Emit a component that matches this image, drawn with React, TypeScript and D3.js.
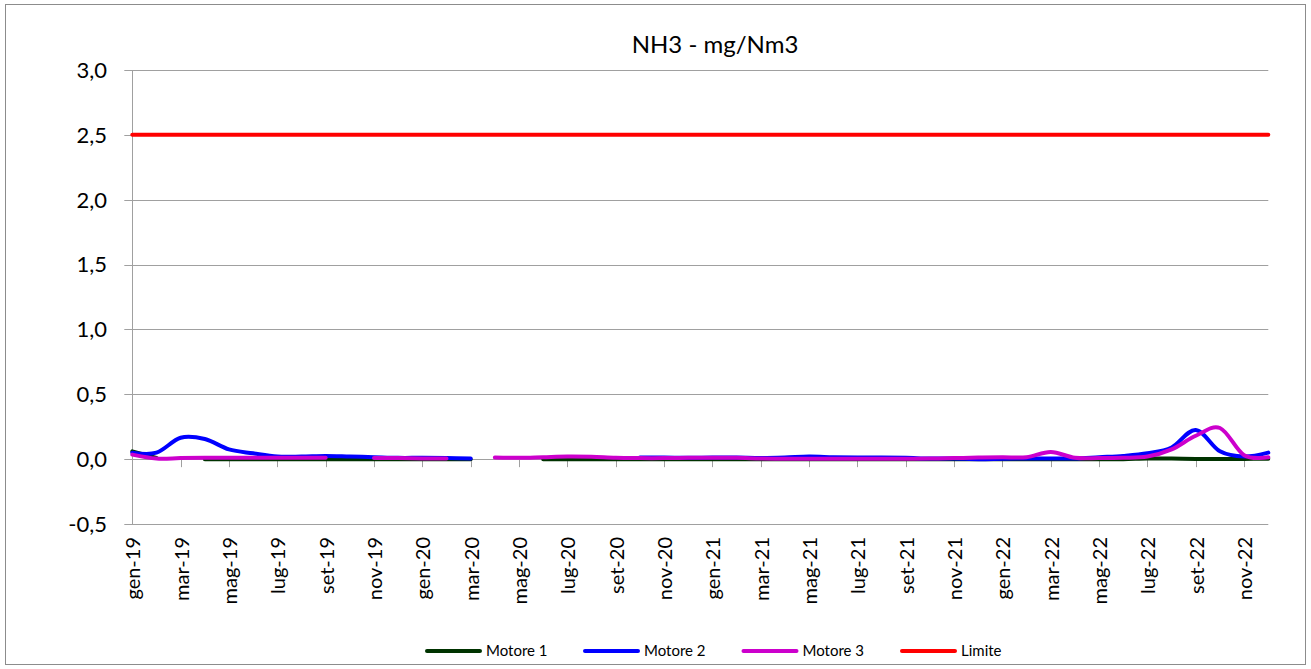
import React from "react";
import * as d3 from "d3";

const months: string[] = [
  "gen-19","feb-19","mar-19","apr-19","mag-19","giu-19","lug-19","ago-19","set-19","ott-19","nov-19","dic-19",
  "gen-20","feb-20","mar-20","apr-20","mag-20","giu-20","lug-20","ago-20","set-20","ott-20","nov-20","dic-20",
  "gen-21","feb-21","mar-21","apr-21","mag-21","giu-21","lug-21","ago-21","set-21","ott-21","nov-21","dic-21",
  "gen-22","feb-22","mar-22","apr-22","mag-22","giu-22","lug-22","ago-22","set-22","ott-22","nov-22","dic-22",
];

const motore1: (number | null)[] = [
  0.06, 0.01, null, 0.0, 0.0, 0.0, 0.0, 0.0, 0.0, 0.0, 0.0, 0.0,
  0.0, 0.0, 0.0, null, null, 0.0, 0.0, 0.0, 0.0, 0.0, 0.0, 0.0,
  0.0, 0.0, 0.0, 0.0, 0.0, 0.0, 0.0, 0.0, 0.0, 0.0, 0.0, 0.0,
  0.0, 0.0, 0.0, 0.0, 0.0, 0.0, 0.005, 0.005, 0.002, 0.002, 0.002, 0.003,
];

const motore2: (number | null)[] = [
  0.05, 0.05, 0.165, 0.155, 0.075, 0.045, 0.02, 0.02, 0.025, 0.02, 0.015, 0.01,
  0.01, 0.008, 0.005, null, null, null, null, null, null, 0.012, 0.012, 0.01,
  0.012, 0.012, 0.008, 0.012, 0.02, 0.015, 0.012, 0.012, 0.01, 0.005, 0.005, 0.0,
  0.003, 0.005, 0.005, 0.005, 0.015, 0.025, 0.045, 0.09, 0.225, 0.06, 0.02, 0.05,
];

const motore3: (number | null)[] = [
  0.035, 0.005, 0.008, 0.01, 0.01, 0.01, 0.01, 0.01, 0.01, null, 0.008, 0.008,
  0.005, 0.005, null, 0.012, 0.01, 0.015, 0.02, 0.018, 0.01, 0.008, 0.008, 0.01,
  0.01, 0.01, 0.005, 0.003, 0.003, 0.003, 0.003, 0.003, 0.003, 0.005, 0.008, 0.012,
  0.015, 0.015, 0.055, 0.01, 0.008, 0.01, 0.02, 0.075, 0.18, 0.24, 0.03, 0.015,
];

const limite: number[] = months.map(() => 2.5);

const yTicks: number[] = [-0.5, 0, 0.5, 1.0, 1.5, 2.0, 2.5, 3.0];

const seriesNames = ["Motore 1", "Motore 2", "Motore 3", "Limite"];
const seriesColors = ["#003300", "#0000ff", "#cc00cc", "#ff0000"];

export default function App() {
  const W = 1311;
  const H = 669;
  const left = 132.3;
  const right = 1268.3;
  const top = 70;
  const bottom = 524;

  const x = d3.scalePoint<string>().domain(months).range([left, right]).padding(0);
  const y = d3.scaleLinear().domain([-0.5, 3.0]).range([bottom, top]);

  const fmt = (v: number) => v.toFixed(1).replace(".", ",");

  const lineGen = d3
    .line<number | null>()
    .defined((d) => d !== null)
    .x((_, i) => x(months[i]) as number)
    .y((d) => y(d as number))
    .curve(d3.curveCardinal.tension(0));

  const allSeries = [motore1, motore2, motore3, limite];
  const font = "Lato, 'Open Sans', sans-serif";

  const legendX = [427, 585, 743.5, 902];

  return (
    <svg
      width={W}
      height={H}
      style={{ position: "absolute", left: 0, top: 0, background: "#fff" }}
      fontFamily={font}
    >
      <rect x={0} y={0} width={W} height={H} fill="#fff" />
      <rect x={5.5} y={4.5} width={1300} height={660} fill="none" stroke="#8c8c8c" strokeWidth={1} />
      <text x={715} y={53} textAnchor="middle" fontSize={24} fill="#000">
        NH3 - mg/Nm3
      </text>
      {yTicks.map((t) => (
        <g key={t}>
          <line x1={left - 8} x2={right} y1={Math.round(y(t)) + 0.5} y2={Math.round(y(t)) + 0.5} stroke="#a0a0a0" strokeWidth={1} />
          <text x={107} y={y(t)} dy="0.36em" textAnchor="end" fontSize={22} fill="#000">
            {fmt(t)}
          </text>
        </g>
      ))}
      <line x1={Math.round(left) + 0.5} x2={Math.round(left) + 0.5} y1={top} y2={bottom} stroke="#a0a0a0" strokeWidth={1} />
      {months.map((m, i) =>
        i % 2 === 0 && i > 0 ? (
          <line key={"t" + m} x1={Math.round(x(m) as number) + 0.5} x2={Math.round(x(m) as number) + 0.5} y1={y(0)} y2={y(0) + 8} stroke="#a0a0a0" strokeWidth={1} />
        ) : null
      )}
      {months.map((m, i) =>
        i % 2 === 0 ? (
          <text
            key={"l" + m}
            transform={`translate(${(x(m) as number) + 8},${537}) rotate(-90)`}
            textAnchor="end"
            fontSize={20}
            fill="#000"
          >
            {m}
          </text>
        ) : null
      )}
      {allSeries.map((s, k) => (
        <path
          key={seriesNames[k]}
          d={lineGen(s as (number | null)[]) || ""}
          fill="none"
          stroke={seriesColors[k]}
          strokeWidth={4}
          strokeLinejoin="round"
          strokeLinecap="round"
        />
      ))}
      {seriesNames.map((n, k) => (
        <g key={"lg" + n}>
          <line x1={legendX[k]} x2={legendX[k] + 53} y1={651} y2={651} stroke={seriesColors[k]} strokeWidth={4} strokeLinecap="round" />
          <text x={legendX[k] + 59} y={651} dy="0.35em" fontSize={15} fill="#000">
            {n}
          </text>
        </g>
      ))}
    </svg>
  );
}
